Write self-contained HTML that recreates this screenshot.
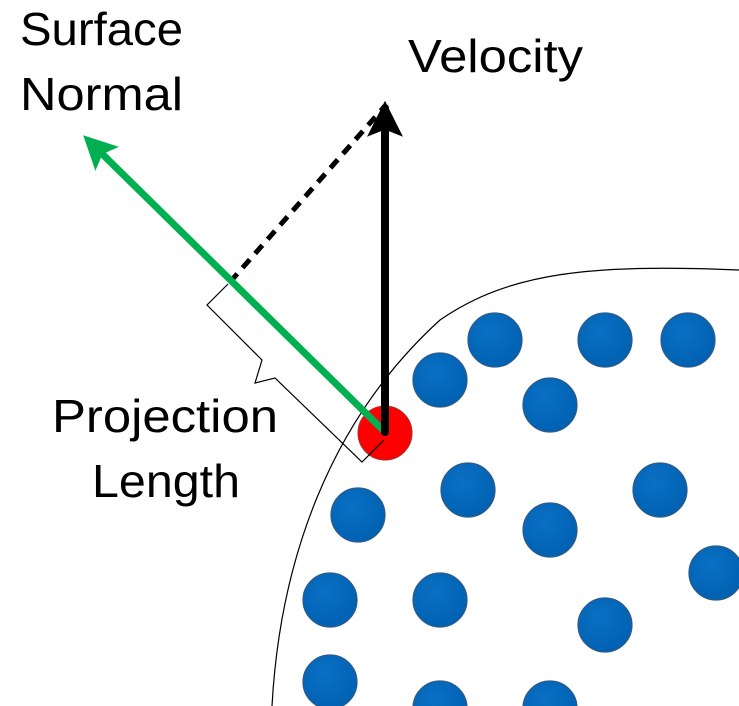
<!DOCTYPE html>
<html><head><meta charset="utf-8"><style>
html,body{margin:0;padding:0;background:#fff;}
svg{display:block;}
text{font-family:"Liberation Sans",sans-serif;font-size:46px;fill:#000;}
</style></head><body>
<svg width="739" height="706" viewBox="0 0 739 706">
<defs>
<radialGradient id="bg" cx="0.4" cy="0.35" r="0.7">
<stop offset="0" stop-color="#0a70c4"/><stop offset="1" stop-color="#0060b0"/>
</radialGradient>
<marker id="ag" viewBox="0 0 10 10" refX="8" refY="5" markerWidth="4.8" markerHeight="4.8" orient="auto"><path d="M0,0L10,5L0,10L2,5z" fill="#00b050"/></marker>
<marker id="ab" viewBox="0 0 10 10" refX="8" refY="5" markerWidth="4.5" markerHeight="4.5" orient="auto"><path d="M0,0L10,5L0,10L2,5z" fill="#000"/></marker>
</defs>
<path d="M272,706 C280,560 330,420 440,320 C510,272 590,264 739,270" fill="none" stroke="#000" stroke-width="1.2"/>
<g fill="url(#bg)" stroke="#2e5a88" stroke-width="1.2">
<circle cx="440" cy="380" r="27"/><circle cx="495" cy="340" r="27"/><circle cx="605" cy="340" r="27"/><circle cx="688" cy="340" r="27"/>
<circle cx="550" cy="405" r="27"/><circle cx="468" cy="490" r="27"/><circle cx="660" cy="490" r="27"/><circle cx="358" cy="515" r="27"/>
<circle cx="550" cy="530" r="27"/><circle cx="716" cy="573" r="27"/><circle cx="330" cy="600" r="27"/><circle cx="440" cy="600" r="27"/>
<circle cx="605" cy="625" r="27"/><circle cx="330" cy="682" r="27"/><circle cx="440" cy="708" r="27"/><circle cx="550" cy="708" r="27"/>
</g>
<circle cx="385" cy="433" r="27" fill="#f00" stroke="#a03030" stroke-width="1"/>
<path d="M228,284 L207,305 L262,360 L255,383 L275,378 L362,462 L384,440" fill="none" stroke="#000" stroke-width="1.2"/>
<line x1="230" y1="282" x2="385" y2="106" stroke="#000" stroke-width="5" stroke-dasharray="11,8"/>
<line x1="385" y1="432" x2="88" y2="140" stroke="#00b050" stroke-width="7" marker-end="url(#ag)"/>
<line x1="385" y1="432" x2="385" y2="108" stroke="#000" stroke-width="8" stroke-linecap="round" marker-end="url(#ab)"/>
<text x="20" y="45" textLength="163" lengthAdjust="spacingAndGlyphs">Surface</text>
<text x="20" y="110" textLength="163" lengthAdjust="spacingAndGlyphs">Normal</text>
<text x="408" y="72" textLength="175" lengthAdjust="spacingAndGlyphs">Velocity</text>
<text x="52" y="432" textLength="226" lengthAdjust="spacingAndGlyphs">Projection</text>
<text x="92" y="497" textLength="148" lengthAdjust="spacingAndGlyphs">Length</text>
</svg>
</body></html>
